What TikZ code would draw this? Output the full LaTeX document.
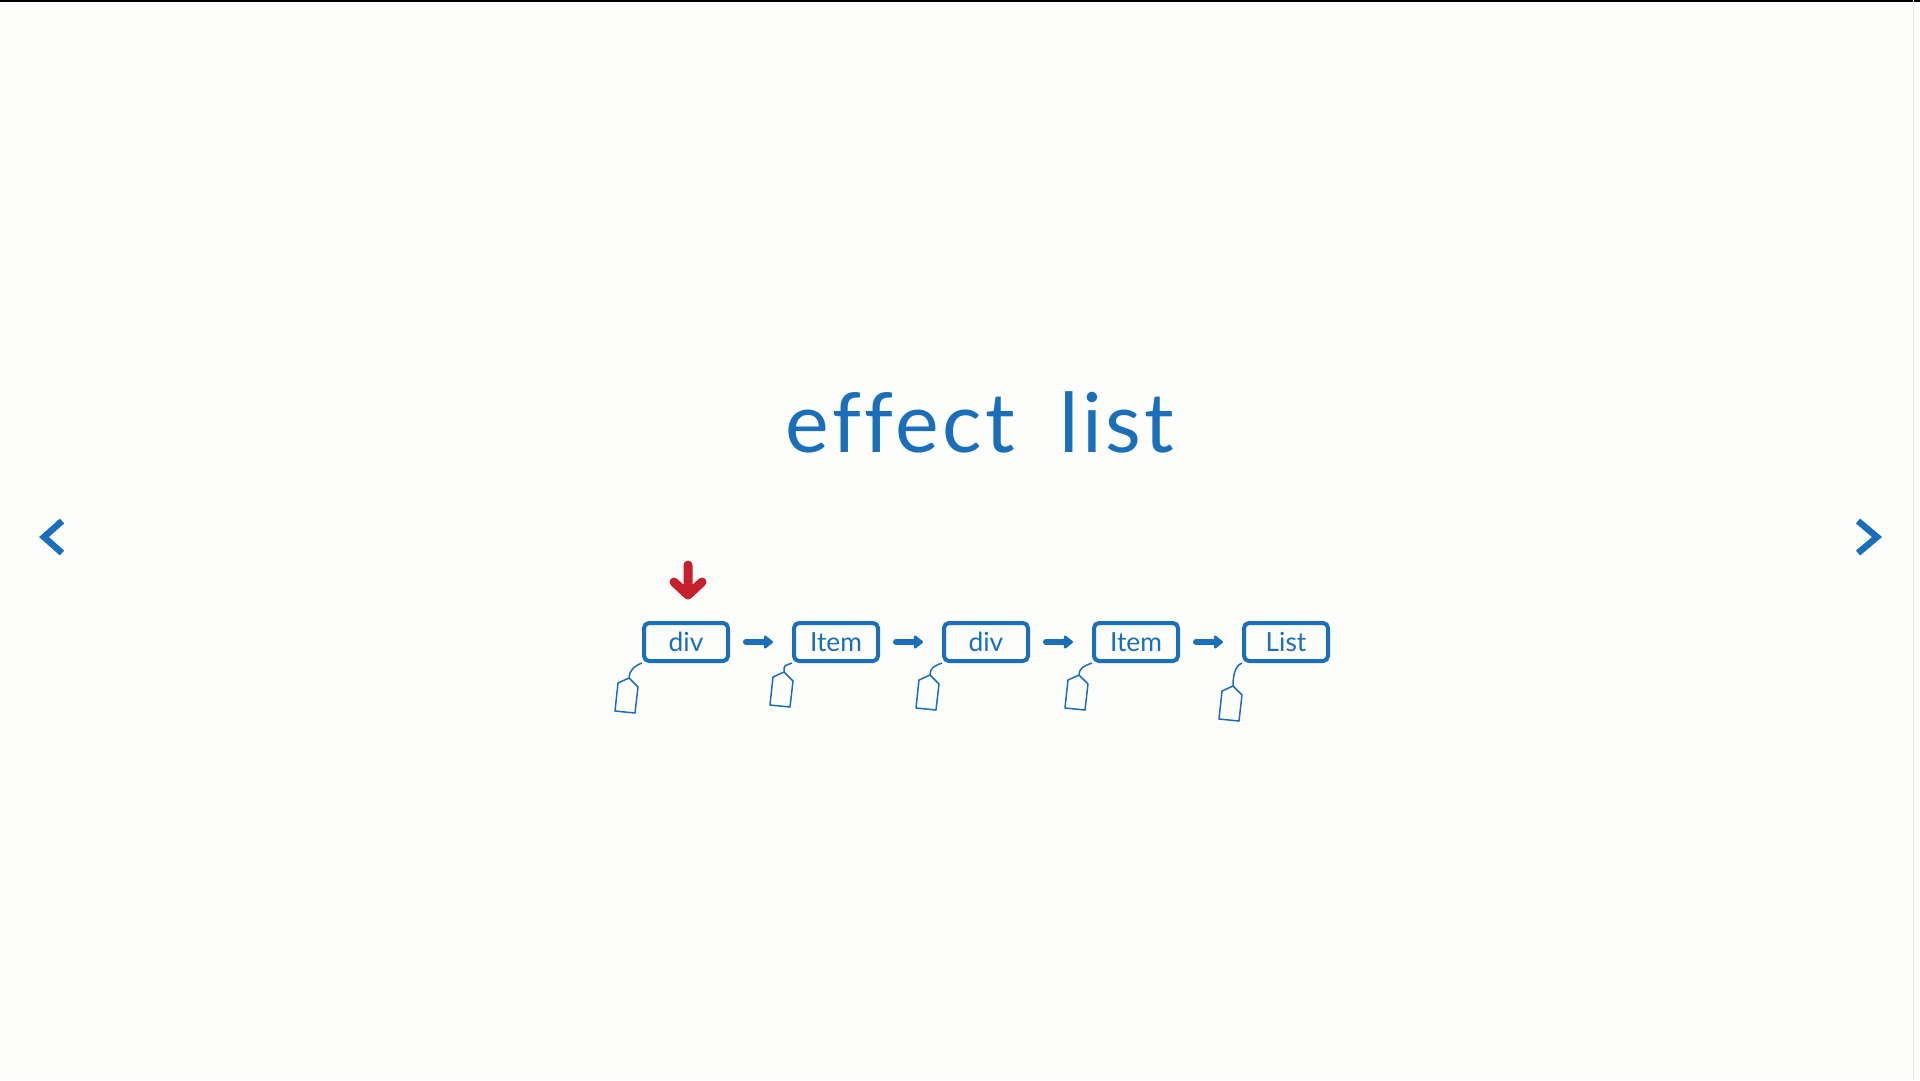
\documentclass[tikz,border=0pt]{standalone}
\usepackage{fontspec}
\setmainfont{Lato}
\usetikzlibrary{positioning,arrows.meta}
\definecolor{slideblue}{RGB}{26,110,186}
\definecolor{slidered}{RGB}{200,32,42}
\definecolor{slidebg}{RGB}{253,254,252}

\begin{document}
\begin{tikzpicture}[x=0.1mm,y=-0.1mm,
  cell/.style={draw=slideblue,line width=0.4mm,rounded corners=0.5mm,
    minimum width=8.4mm,minimum height=3.8mm,inner sep=0pt,
    text=slideblue,font=\fontsize{7.5}{8}\selectfont},
  link/.style={draw=slideblue,line width=0.6mm,line cap=round,
    -{Triangle[length=1mm,width=1.5mm,round]},shorten <=1.6mm,shorten >=1.9mm},
  tagline/.style={draw=slideblue,line width=0.15mm,line join=round}]
  % page
  \fill[slidebg] (0,0) rectangle (1920,1080);
  \useasboundingbox (0,0) rectangle (1920,1080);
  \draw[black,line width=0.2mm] (0,1) -- (1920,1);
  \draw[black!12,line width=0.1mm] (1913,0) -- (1913,1080);
  % title
  \node[anchor=base,text=slideblue,font=\fontsize{23.5}{26}\selectfont\addfontfeatures{LetterSpace=4,Ligatures=NoCommon}] (title) at (980,452) {effect\hspace{4.5mm}list};
  % side arrows
  \draw[slideblue,line width=0.65mm] (62,521) -- (44,537) -- (62,553);
  \draw[slideblue,line width=0.65mm] (1858,521) -- (1877,537) -- (1858,553);
  % list cells
  \node[cell] (div1) at (686,642) {div};
  \node[cell,right=6.2mm of div1] (item1) {Item};
  \node[cell,right=6.2mm of item1] (div2) {div};
  \node[cell,right=6.2mm of div2] (item2) {Item};
  \node[cell,right=6.2mm of item2] (list) {List};
  \draw[link] (div1) -- (item1);
  \draw[link] (item1) -- (div2);
  \draw[link] (div2) -- (item2);
  \draw[link] (item2) -- (list);
  % current pointer
  \coordinate (here) at (688,565);
  \draw[slidered,line width=0.9mm,line cap=round,line join=round]
    (here) -- ++(0,30) ++(-14,-13) -- ++(14,13) -- ++(14,-13);
  % tags
  \foreach \n/\dx/\dy in {div1/-13/15,item1/-8/9,div2/-12/12,item2/-13/12,list/-9/23}{
    \coordinate (t-\n) at ([shift={(\dx,\dy)}]\n.south west);
    \draw[tagline] (\n.south west) .. controls +(-8,3) and +(0,-7) .. (t-\n);
    \draw[tagline] (t-\n) -- ++(9,9) -- ++(-3,26) -- ++(-20,-2) -- ++(3,-28) -- cycle;
  }
\end{tikzpicture}
\end{document}
